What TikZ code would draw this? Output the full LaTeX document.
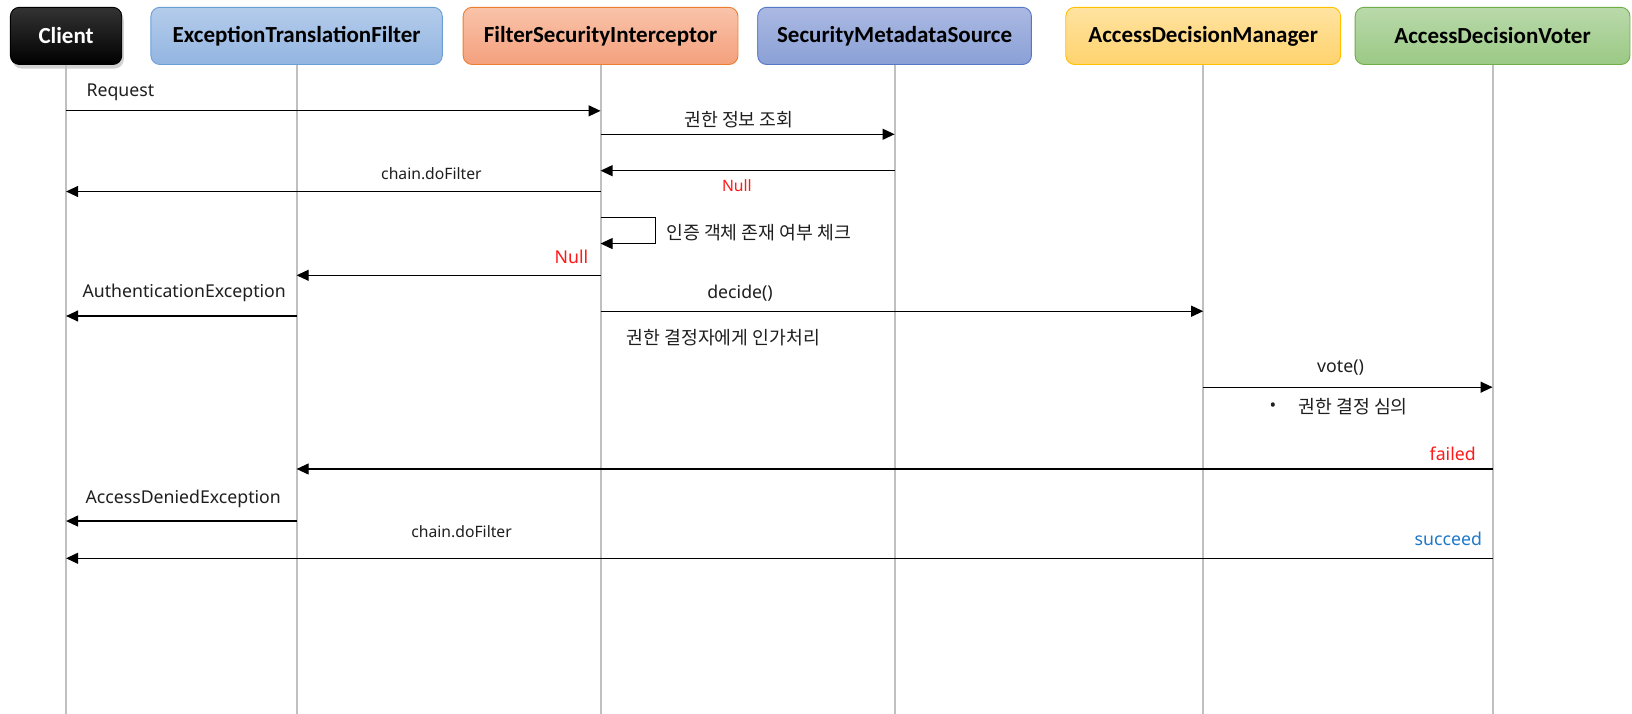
\documentclass[tikz,border=0pt]{standalone}
\usepackage{fontspec}
\setmainfont{Noto Sans}
\newfontfamily\kofont{Noto Sans CJK KR}
\newfontfamily\hdfont{Carlito}
\usetikzlibrary{arrows.meta,shadows}
\definecolor{lifegray}{HTML}{C0C0C0}
\definecolor{etfT}{HTML}{B4CCEB}\definecolor{etfB}{HTML}{93B5E1}\definecolor{etfD}{HTML}{6A9FD6}
\definecolor{fsiT}{HTML}{F9C3AA}\definecolor{fsiB}{HTML}{F4A07C}\definecolor{fsiD}{HTML}{ED7D31}
\definecolor{smsT}{HTML}{ABB9E2}\definecolor{smsB}{HTML}{8AA0D6}\definecolor{smsD}{HTML}{5577C6}
\definecolor{admT}{HTML}{FFE3A1}\definecolor{admB}{HTML}{FFD36E}\definecolor{admD}{HTML}{FFC000}
\definecolor{advT}{HTML}{B9D9AA}\definecolor{advB}{HTML}{9BC985}\definecolor{advD}{HTML}{70AD47}
\definecolor{okblue}{HTML}{1F78C8}
\definecolor{nored}{HTML}{FF1A1A}
\begin{document}
\begin{tikzpicture}[x=1.0408pt,y=-1.0408pt,
  hdr/.style={rounded corners=9pt, minimum height=57.2pt, inner sep=0pt, text=black,
    font=\hdfont\bfseries\fontsize{23}{27}\selectfont, line width=0.9pt},
  lifeline/.style={draw=lifegray, line width=2pt},
  msg/.style={draw=black, line width=1.2pt, -{Triangle[length=12pt,width=11pt]}},
  lbl/.style={font=\fontsize{17.7}{21}\selectfont, inner sep=0pt, text=black!88},
  sml/.style={font=\fontsize{15.7}{19}\selectfont, inner sep=0pt, text=black!88},
  ko/.style={font=\kofont\fontsize{18.3}{22}\selectfont, inner sep=0pt, text=black!88}]
\useasboundingbox (0,0) rectangle (1568,686);
\fill[white] (0,0) rectangle (1568,686);
% headers
\node[hdr, minimum width=111.4pt, top color=black!80, bottom color=black, draw=black, text=white,
  drop shadow={opacity=0.35, shadow xshift=2pt, shadow yshift=-4pt}] (cl) at (63.5,34.5) {Client};
\node[hdr, minimum width=291.4pt, top color=etfT, bottom color=etfB, draw=etfD] (etf) at (285,34.5) {ExceptionTranslationFilter};
\node[hdr, minimum width=274.8pt, top color=fsiT, bottom color=fsiB, draw=fsiD] (fsi) at (577,34.5) {FilterSecurityInterceptor};
\node[hdr, minimum width=273.7pt, top color=smsT, bottom color=smsB, draw=smsD] (sms) at (859.5,34.5) {SecurityMetadataSource};
\node[hdr, minimum width=274.8pt, top color=admT, bottom color=admB, draw=admD] (adm) at (1156,34.5) {AccessDecisionManager};
\node[hdr, minimum width=274.8pt, top color=advT, bottom color=advB, draw=advD] (adv) at (1434,34.5) {AccessDecisionVoter};
% lifelines
\foreach \n in {cl,etf,fsi,sms,adm,adv}{
  \coordinate (\n-end) at (\n.south |- 0,686);
  \draw[lifeline] (\n.south) -- (\n-end);
}
% message end points
\path (cl |- 0,106.5) coordinate (m1a)  (fsi |- 0,106.5) coordinate (m1b)
      (fsi |- 0,129) coordinate (m2a)   (sms |- 0,129) coordinate (m2b)
      (sms |- 0,164) coordinate (m3a)   (fsi |- 0,164) coordinate (m3b)
      (fsi |- 0,184) coordinate (m4a)   (cl |- 0,184) coordinate (m4b)
      (fsi |- 0,209) coordinate (m5a)   (fsi |- 0,234) coordinate (m5b)
      (fsi |- 0,264.5) coordinate (m6a) (etf |- 0,264.5) coordinate (m6b)
      (etf |- 0,303.6) coordinate (m7a) (cl |- 0,303.6) coordinate (m7b)
      (fsi |- 0,299) coordinate (m8a)   (adm |- 0,299) coordinate (m8b)
      (adm |- 0,372) coordinate (m9a)   (adv |- 0,372) coordinate (m9b)
      (adv |- 0,450.6) coordinate (m10a) (etf |- 0,450.6) coordinate (m10b)
      (etf |- 0,500.6) coordinate (m11a) (cl |- 0,500.6) coordinate (m11b)
      (adv |- 0,536.4) coordinate (m12a) (cl |- 0,536.4) coordinate (m12b);
\draw[msg] (m1a) -- (m1b);
\draw[msg] (m2a) -- (m2b);
\draw[msg] (m3a) -- (m3b);
\draw[msg] (m4a) -- (m4b);
\draw[msg, line width=1.1pt] (m5a) -- ++(53,0) |- (m5b);
\draw[msg] (m6a) -- (m6b);
\draw[msg] (m7a) -- (m7b);
\draw[msg] (m8a) -- (m8b);
\draw[msg] (m9a) -- (m9b);
\draw[msg] (m10a) -- (m10b);
\draw[msg] (m11a) -- (m11b);
\draw[msg] (m12a) -- (m12b);
% labels
\node[lbl, anchor=west] (t1) at (83,89) {Request};
\node[ko] (t2) at (710,115) {권한 정보 조회};
\node[sml, text=nored] (t3) at (708,178) {Null};
\node[sml] (t4) at (414.5,166.5) {chain.doFilter};
\node[ko, anchor=west] (t5) at (640,224) {인증 객체 존재 여부 체크};
\node[lbl, text=nored] (t6) at (549,246.6) {Null};
\node[lbl] (t7) at (177,281.2) {AuthenticationException};
\node[lbl] (t8) at (711,281.2) {decide()};
\node[ko] (t9) at (695,324.8) {권한 결정자에게 인가처리};
\node[lbl] (t10) at (1288,353) {vote()};
\node[lbl] (t11) at (1223,391) {•};
\node[ko] (t12) at (1300,391) {권한 결정 심의};
\node[lbl, text=nored, anchor=east] (t13) at (1418,435.6) {failed};
\node[lbl] (t14) at (176,479.5) {AccessDeniedException};
\node[sml] (t15) at (443.5,510.8) {chain.doFilter};
\node[lbl, text=okblue, anchor=east] (t16) at (1424,518) {succeed};
\end{tikzpicture}
\end{document}
